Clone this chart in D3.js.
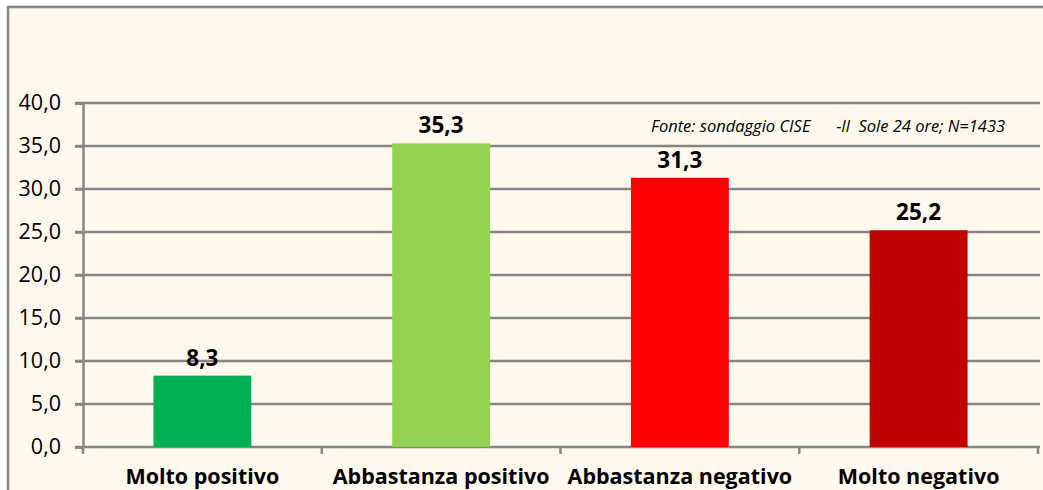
<!DOCTYPE html>
<html>
<head>
<meta charset="utf-8">
<script src="https://cdn.jsdelivr.net/npm/d3@7"></script>
<style>
  body { margin: 0; background: #fff; }
  text { font-family: "Open Sans", "Liberation Sans", sans-serif; }
</style>
</head>
<body>
<script>
var width = 1043,
    height = 490;

// data
var categories = ["Molto positivo", "Abbastanza positivo", "Abbastanza negativo", "Molto negativo"];
var values = [8.3, 35.3, 31.3, 25.2];
var colors = ["#00B050", "#92D050", "#FF0000", "#C00000"];
var yTicks = [0, 5, 10, 15, 20, 25, 30, 35, 40];
var note = "Fonte: sondaggio CISE      -Il  Sole 24 ore; N=1433";

var margin = { top: 103, left: 83, right: 5, bottom: 43 };

var svg = d3.select("body").append("svg")
    .attr("width", width)
    .attr("height", height);

// chart area
svg.append("rect")
    .attr("x", 8).attr("y", 7)
    .attr("width", width + 10).attr("height", height + 10)
    .attr("fill", "#FFF9EE")
    .attr("stroke", "#868686")
    .attr("stroke-width", 2.5);

var x = d3.scaleBand()
    .domain(categories)
    .range([margin.left, width - margin.right])
    .paddingInner(0.59)
    .paddingOuter(0.295);

var y = d3.scaleLinear()
    .domain([0, 40])
    .range([height - margin.bottom, margin.top]);

var fmt = function(v) { return d3.format(".1f")(v).replace(".", ","); };

// gridlines
svg.append("g").selectAll("line")
  .data(yTicks)
  .enter().append("line")
    .attr("x1", margin.left - 8)
    .attr("x2", width - 3)
    .attr("y1", function(d) { return y(d); })
    .attr("y2", function(d) { return y(d); })
    .attr("stroke", "#868686")
    .attr("stroke-width", 2.5);

// y axis
var yAxis = svg.append("g")
    .attr("transform", "translate(" + margin.left + ",0)")
    .call(d3.axisLeft(y).tickValues(yTicks).tickFormat(fmt).tickSize(8).tickPadding(14));
yAxis.select(".domain").attr("stroke", "#868686").attr("stroke-width", 2.5);
yAxis.selectAll(".tick line").attr("stroke", "#868686").attr("stroke-width", 2.5);
yAxis.selectAll(".tick text")
    .attr("font-size", 21.5)
    .attr("fill", "#000")
    .style("font-family", "'Open Sans', sans-serif");

// category separators on x axis
var step = x.step();
var bounds = d3.range(categories.length + 1).map(function(i) { return margin.left + i * step; });
svg.append("g").selectAll("line")
  .data(bounds)
  .enter().append("line")
    .attr("x1", function(d) { return d; })
    .attr("x2", function(d) { return d; })
    .attr("y1", y(0))
    .attr("y2", y(0) + 7)
    .attr("stroke", "#868686")
    .attr("stroke-width", 2.5);

// bars
svg.append("g").selectAll("rect")
  .data(values)
  .enter().append("rect")
    .attr("x", function(d, i) { return x(categories[i]); })
    .attr("y", function(d) { return y(d); })
    .attr("width", x.bandwidth())
    .attr("height", function(d) { return y(0) - y(d); })
    .attr("fill", function(d, i) { return colors[i]; });

// value labels
svg.append("g").selectAll("text")
  .data(values)
  .enter().append("text")
    .attr("x", function(d, i) { return x(categories[i]) + x.bandwidth() / 2; })
    .attr("y", function(d) { return y(d) - 10; })
    .attr("text-anchor", "middle")
    .attr("font-size", 22.5)
    .attr("font-weight", "bold")
    .text(fmt);

// category labels
svg.append("g").selectAll("text")
  .data(categories)
  .enter().append("text")
    .attr("x", function(d) { return x(d) + x.bandwidth() / 2; })
    .attr("y", height - 6)
    .attr("text-anchor", "middle")
    .attr("font-size", 21.5)
    .attr("font-weight", "bold")
    .text(function(d) { return d; });

// source note
svg.append("text")
    .attr("x", 651)
    .attr("y", 132)
    .attr("font-size", 16.5)
    .attr("font-style", "italic")
    .attr("xml:space", "preserve")
    .style("white-space", "pre")
    .text(note);
</script>
</body>
</html>
